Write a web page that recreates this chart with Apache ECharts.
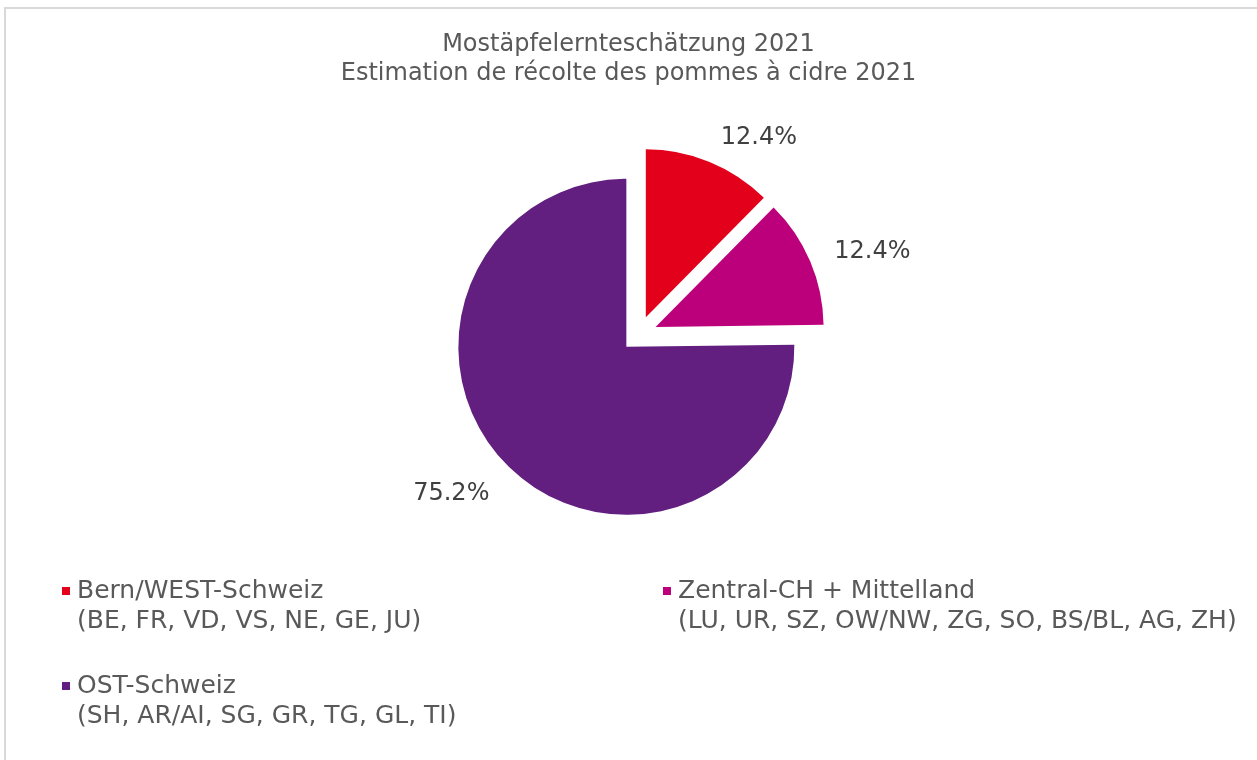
<!DOCTYPE html>
<html>
<head>
<meta charset="utf-8">
<script src="https://cdn.jsdelivr.net/npm/echarts@6/dist/echarts.min.js"></script>
<style>
  html, body { margin: 0; padding: 0; background: #fff; }
  #frame { position: absolute; left: 4px; top: 7px; width: 1300px; height: 800px;
           border-left: 2px solid #d9d9d9; border-top: 2px solid #d9d9d9; box-sizing: border-box; }
  #chart { position: absolute; left: 0; top: 0; width: 1257px; height: 760px; }
</style>
</head>
<body>
<div id="frame"></div>
<div id="chart"></div>
<script>
const titleLines = ['Mostäpfelernteschätzung 2021', 'Estimation de récolte des pommes à cidre 2021'];
const categories = [
  'Bern/WEST-Schweiz\n(BE, FR, VD, VS, NE, GE, JU)',
  'Zentral-CH + Mittelland\n(LU, UR, SZ, OW/NW, ZG, SO, BS/BL, AG, ZH)',
  'OST-Schweiz\n(SH, AR/AI, SG, GR, TG, GL, TI)'
];
const shares = [12.4, 12.4, 75.2];
const colors = ['#e2001a', '#bc007b', '#621f7f'];

const FONT = 'DejaVu Sans';
const iconPath = 'path://M0,0L8,0L8,8L0,8Z M10,38L10.01,38L10.01,38.01Z';

const chart = echarts.init(document.getElementById('chart'));
chart.setOption({
  backgroundColor: 'transparent',
  animation: false,
  title: {
    text: titleLines.join('\n'),
    left: 'center',
    top: 25,
    textStyle: { fontFamily: FONT, fontSize: 24, fontWeight: 'normal', color: '#595959', lineHeight: 29 }
  },
  legend: [
    {
      data: [categories[0], categories[2]],
      orient: 'vertical',
      left: 57,
      top: 571,
      itemGap: 35,
      itemWidth: 10,
      itemHeight: 38,
      icon: iconPath,
      selectedMode: false,
      textStyle: { fontFamily: FONT, fontSize: 25, color: '#595959', lineHeight: 30 }
    },
    {
      data: [categories[1]],
      orient: 'vertical',
      left: 658,
      top: 571,
      itemWidth: 10,
      itemHeight: 38,
      icon: iconPath,
      selectedMode: false,
      textStyle: { fontFamily: FONT, fontSize: 25, color: '#595959', lineHeight: 30 }
    }
  ],
  series: [{
    type: 'pie',
    center: [639, 334],
    radius: 168,
    startAngle: 90,
    clockwise: true,
    selectedMode: 'multiple',
    selectedOffset: 18,
    avoidLabelOverlap: false,
    label: {
      show: true,
      position: 'outside',
      formatter: p => p.value.toFixed(1) + '%',
      fontFamily: FONT,
      fontSize: 24,
      color: '#404040',
      distanceToLabelLine: 2
    },
    labelLine: { show: false, length: 24, length2: 0 },
    labelLayout: p => (p.dataIndex === 2 ? { dy: 10 } : (p.dataIndex === 0 ? { dy: -2 } : {})),
    emphasis: { disabled: true },
    data: categories.map((c, i) => ({
      name: c, value: shares[i], selected: true,
      itemStyle: { color: colors[i] }
    }))
  }]
});
</script>
</body>
</html>
